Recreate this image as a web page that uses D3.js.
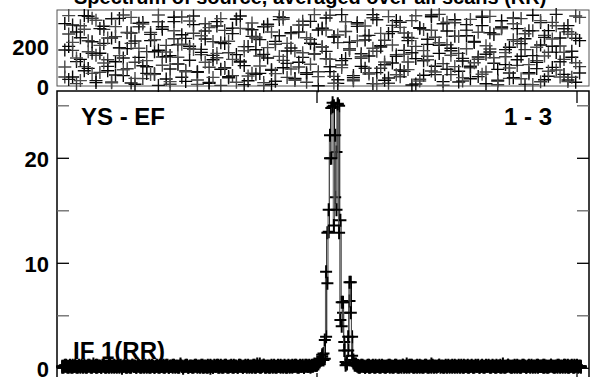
<!DOCTYPE html>
<html>
<head>
<meta charset="utf-8">
<script src="https://cdn.jsdelivr.net/npm/d3@7"></script>
<style>
  body { margin: 0; background: #fff; }
  svg { display: block; font-family: "Liberation Sans", Arial, sans-serif; font-weight: bold; }
</style>
</head>
<body>
<div id="chart"></div>
<script>
// phase (deg), four records, sampled every 3rd channel
const phase1 = [312,198,45,270,133,352,88,221,17,164,299,76,240,121,338,52,187,265,9,143,318,96,227,61,179,284,35,152,344,110,256,23,199,307,71,168,235,14,131,322,84,212,47,289,157,350,102,26,248,181,63,296,140,8,223,332,91,175,267,38,119,305,58,214,160,280,195,340,72,246,13,127,273,186,42,316,98,230,150,357,67,201,29,262,115,327,80,178,243,5,137,291,54,208,346,99,163,22,275,189,331,74,125,251,36,218,145,302,11,170,259,83,326,107,194,41,287,149,236,66,354,118,205,31,277,93,168,240,58,302,144,19,227];
const phase2 = [45,260,178,12,301,97,226,339,154,68,283,131,20,247,190,355,86,213,119,296,37,172,268,58,321,145,203,9,236,109,345,77,188,264,30,157,311,94,222,141,3,278,166,52,333,118,197,286,64,240,150,17,299,83,209,347,128,43,262,176,95,324,19,233,162,71,290,136,354,48,217,105,272,187,26,310,139,250,60,341,174,89,229,14,303,156,46,265,120,327,198,34,282,149,75,244,358,112,206,57,316,163,25,279,91,220,134,349,70,185,257,6,294,146,38,231,103,337,182,61,276,127,21,253,169,318,80,200,133,271,44,350,97];
const phase3 = [180,33,305,122,241,76,349,164,27,287,213,98,336,55,192,140,268,15,225,314,101,63,258,171,3,296,147,85,322,206,44,238,129,350,69,183,275,18,153,300,216,92,41,262,335,124,7,197,281,59,232,158,309,79,24,251,342,113,190,35,270,143,66,323,208,1,286,173,96,245,31,357,137,219,52,298,161,89,253,12,331,195,106,40,272,148,319,73,227,166,10,289,126,234,355,57,204,311,84,176,249,20,138,307,99,223,47,343,159,266,114,29,295,182,65,340,131,212,8,276,152,87,317,243,49,199,358,121,286,30,174,239,65];
const phase4 = [95,352,218,140,27,284,171,63,329,203,115,240,16,297,152,81,266,343,38,189,310,127,57,231,355,104,170,22,276,144,209,71,325,183,8,251,119,292,43,163,337,88,224,133,19,288,176,50,315,245,100,3,192,270,62,148,334,213,85,28,305,166,241,109,357,47,196,280,134,14,255,92,321,178,33,226,146,300,67,189,11,263,120,347,205,56,293,158,82,238,351,25,177,131,279,70,216,4,319,154,97,248,42,186,333,116,269,59,201,348,141,23,286,167,90,311,223,36,261,107,7,194,327,150,74,235,301,45,168,22,259,116,343];

// amplitude per channel (channels 4..403), two records
const ampA = [
  .2,.1,.3,.2,.2,.1,.3,.2,.1,.2,.3,.2,.1,.2,.2,.3,.1,.2,.2,.1,
  .3,.2,.1,.2,.4,.2,.1,.3,.2,.2,.1,.2,.3,.1,.2,.2,.1,.3,.2,.2,
  .1,.2,.2,.3,.1,.2,.0,.2,.3,.2,.1,.2,.2,.1,.3,.2,.2,.1,.4,.2,
  .2,.1,.3,.2,.2,.1,.2,.3,.1,.2,.2,.1,.2,.3,.2,.1,.2,.2,.3,.1,
  .2,.3,.1,.2,.2,.1,.3,.2,.2,.1,.2,.4,.2,.1,.2,.3,.2,.1,.2,.2,
  .1,.2,.3,.2,.1,.2,.2,.3,.1,.2,.2,.1,.3,.2,.0,.2,.1,.3,.2,.2,
  .3,.1,.2,.2,.1,.3,.2,.1,.2,.2,.3,.2,.1,.2,.2,.1,.3,.2,.2,.1,
  .2,.2,.1,.3,.2,.2,.1,.2,.3,.1,.2,.2,.4,.1,.2,.3,.2,.1,.2,.2,
  .1,.3,.2,.2,.1,.2,.3,.2,.1,.2,.2,.3,.1,.2,.2,.1,.2,.3,.2,.2,
  .3,.2,.1,.2,.2,.3,.1,.2,.3,.2,.2,.1,.3,.2,.3,.3,
  .4,.5,.6,.8,1.1,1.4,.9,3.0,12.9,13.0,20.0,24.8,25.3,25.0,16.3,20.6,
  25.1,25.0,14.1,6.3,5.3,2.5,.6,.4,1.7,6.4,8.2,3.0,.8,.4,.3,.3,
  .2,.1,.2,.3,.2,.1,.2,.2,.3,.1,.2,.2,.1,.3,.2,.2,.1,.2,.3,.2,
  .1,.2,.2,.3,.1,.2,.2,.1,.3,.2,.2,.1,.2,.2,.3,.1,.2,.4,.2,.1,
  .2,.3,.1,.2,.2,.1,.2,.3,.2,.1,.2,.2,.3,.1,.2,.2,.1,.3,.2,.2,
  .1,.2,.3,.2,.2,.1,.2,.2,.1,.3,.2,.2,.1,.2,.3,.2,.1,.2,.2,.3,
  .2,.1,.2,.2,.3,.1,.2,.2,.1,.2,.3,.2,.2,.1,.2,.3,.2,.1,.2,.2,
  .3,.2,.1,.2,.2,.1,.3,.2,.2,.1,.2,.4,.1,.2,.2,.3,.2,.1,.2,.2,
  .1,.2,.3,.2,.1,.2,.2,.3,.2,.1,.2,.2,.1,.3,.2,.2,.1,.2,.3,.2,
  .2,.2,.1,.3,.2,.1,.2,.2,.3,.2,.1,.2,.2,.1,.3,.2,.2,.1,.2,.3,
  .2,.1,.2,.2,.3,.2,.1,.2,.3,.2,.2,.1
];
const ampB = [
  .1,.2,.2,.3,.1,.2,.2,.1,.3,.2,.2,.1,.2,.3,.1,.2,.2,.3,.1,.2,
  .2,.3,.2,.1,.2,.2,.3,.1,.2,.2,.1,.3,.2,.2,.1,.2,.4,.2,.1,.2,
  .3,.2,.1,.2,.2,.3,.1,.2,.2,.1,.3,.2,.1,.2,.3,.2,.2,.1,.2,.3,
  .1,.2,.2,.1,.3,.2,.2,.1,.2,.3,.2,.1,.2,.2,.1,.3,.2,.2,.1,.2,
  .3,.2,.1,.2,.2,.3,.2,.1,.2,.2,.1,.3,.2,.0,.2,.2,.3,.1,.2,.2,
  .2,.1,.2,.3,.2,.2,.1,.2,.3,.1,.2,.2,.1,.2,.3,.2,.1,.2,.2,.3,
  .1,.2,.3,.1,.2,.2,.3,.2,.1,.2,.2,.1,.3,.2,.2,.1,.2,.3,.2,.1,
  .2,.3,.2,.2,.1,.2,.2,.3,.1,.2,.4,.2,.1,.2,.2,.3,.1,.2,.2,.1,
  .2,.2,.1,.3,.2,.1,.2,.2,.3,.2,.1,.2,.2,.1,.3,.2,.2,.1,.2,.3,
  .2,.1,.2,.3,.2,.2,.1,.3,.2,.2,.3,.2,.2,.3,.4,.3,
  .3,.4,.7,.9,1.3,.8,2.7,9.2,8.1,15.1,22.2,20.0,24.9,13.6,22.2,15.1,
  25.2,12.9,4.6,4.0,6.3,1.7,.3,.5,3.0,8.2,5.3,1.2,.5,.3,.4,.2,
  .1,.2,.3,.2,.2,.1,.2,.3,.1,.2,.2,.3,.2,.1,.2,.2,.3,.1,.2,.2,
  .2,.1,.2,.2,.3,.2,.1,.2,.2,.3,.1,.2,.2,.1,.3,.2,.2,.1,.2,.3,
  .3,.2,.2,.1,.2,.3,.2,.1,.2,.2,.1,.3,.2,.2,.1,.2,.4,.2,.1,.2,
  .2,.2,.3,.1,.2,.2,.1,.3,.2,.2,.1,.2,.3,.2,.1,.2,.2,.3,.1,.2,
  .1,.3,.2,.2,.1,.2,.2,.3,.2,.1,.2,.2,.3,.1,.2,.2,.1,.2,.3,.2,
  .2,.1,.2,.3,.2,.2,.1,.2,.2,.3,.1,.2,.2,.1,.2,.3,.2,.2,.1,.2,
  .3,.2,.1,.2,.2,.1,.3,.2,.2,.1,.2,.3,.2,.2,.1,.2,.2,.3,.1,.2,
  .2,.2,.3,.1,.2,.2,.1,.2,.3,.2,.2,.1,.2,.3,.2,.1,.2,.2,.3,.1,
  .2,.3,.1,.2,.2,.1,.3,.2,.2,.1,.2,.2
];

const ampChannels = d3.range(4, 4 + ampA.length);
const phaseChannels = d3.range(6, 6 + 3 * phase1.length, 3);

const phaseTicks = [0, 200];
const ampTicks = [0, 5, 10, 15, 20, 25];
const ampLabels = [0, 10, 20];
const chanMajor = [200, 400];
const phaseColors = ['#000', '#3a3a3a', '#111', '#4a4a4a'];
const ampColors = ['#000', '#555'];

const W = 591, H = 377;
const left = 57, right = 589;

const svg = d3.select('#chart').append('svg').attr('width', W).attr('height', H);

const x = d3.scaleLinear().domain([0, 400]).range([57, 577]);
const yP = d3.scaleLinear().domain([0, 380]).range([86, 10]);
const yA = d3.scaleLinear().domain([0, 25]).range([368.3, 105.8]);

// title, mostly above the visible area
svg.append('text').attr('x', 74).attr('y', 4).attr('font-size', 20)
  .text('Spectrum of source, averaged over all scans (RR)');

// ---- phase panel
svg.append('rect').attr('x', left).attr('y', 10).attr('width', right - left).attr('height', 76)
  .attr('fill', 'none').attr('stroke', '#555').attr('stroke-width', 1);

[phase1, phase2, phase3, phase4].forEach((ph, k) => {
  const g = svg.append('g').attr('stroke', phaseColors[k]).attr('stroke-width', 1.4);
  g.selectAll('path').data(phaseChannels).enter().append('path')
    .attr('d', (c, i) => {
      const px = x(c), py = yP(ph[i]);
      return `M${px - 6.5},${py}H${px + 6.5}M${px},${py - 6.5}V${py + 6.5}`;
    });
});

svg.selectAll('text.pl').data(phaseTicks).enter().append('text')
  .attr('class', 'pl').attr('x', 49).attr('y', (d) => yP(d) + 1.5)
  .attr('text-anchor', 'end').attr('dominant-baseline', 'central')
  .attr('font-size', 22).text((d) => d);

// ---- amplitude panel frame
svg.append('path').attr('d', `M${left},385V91H${right}V385`)
  .attr('fill', 'none').attr('stroke', '#000').attr('stroke-width', 1.5);

// y ticks on both sides, pointing inward
ampTicks.forEach((t) => {
  const col = t % 10 === 0 ? '#000' : '#666';
  svg.append('line').attr('x1', left).attr('x2', left + 12).attr('y1', yA(t)).attr('y2', yA(t))
    .attr('stroke', col).attr('stroke-width', 1.3);
  svg.append('line').attr('x1', right).attr('x2', right - 12).attr('y1', yA(t)).attr('y2', yA(t))
    .attr('stroke', col).attr('stroke-width', 1.3);
});
chanMajor.forEach((c) => {
  svg.append('line').attr('x1', x(c)).attr('x2', x(c)).attr('y1', 91).attr('y2', 103)
    .attr('stroke', '#000').attr('stroke-width', 1.3);
  svg.append('line').attr('x1', x(c)).attr('x2', x(c)).attr('y1', 385).attr('y2', 373)
    .attr('stroke', '#000').attr('stroke-width', 1.3);
});

svg.selectAll('text.al').data(ampLabels).enter().append('text')
  .attr('class', 'al').attr('x', 49).attr('y', (d) => yA(d) + 1)
  .attr('text-anchor', 'end').attr('dominant-baseline', 'central')
  .attr('font-size', 22).text((d) => d);

// spectra: step line + crosses
const line = d3.line().x((d) => x(d[0])).y((d) => yA(d[1])).curve(d3.curveStep);
[ampA, ampB].forEach((a, k) => {
  const pts = ampChannels.map((c, i) => [c, a[i]]);
  svg.append('path').attr('d', line(pts)).attr('fill', 'none')
    .attr('stroke', ampColors[k]).attr('stroke-width', 1);
  const g = svg.append('g').attr('stroke', '#000').attr('stroke-width', 2);
  g.selectAll('path').data(pts).enter().append('path')
    .attr('d', (d) => {
      const px = x(d[0]), py = yA(d[1]);
      return `M${px - 6},${py}H${px + 6}M${px},${py - 6.5}V${py + 6.5}`;
    });
});

// panel labels
svg.append('text').attr('x', 81).attr('y', 125).attr('font-size', 24).text('YS - EF');
svg.append('text').attr('x', 552).attr('y', 125).attr('font-size', 24).attr('text-anchor', 'end').text('1 - 3');
svg.append('text').attr('x', 73).attr('y', 359).attr('font-size', 24).text('IF 1(RR)');
</script>
</body>
</html>
